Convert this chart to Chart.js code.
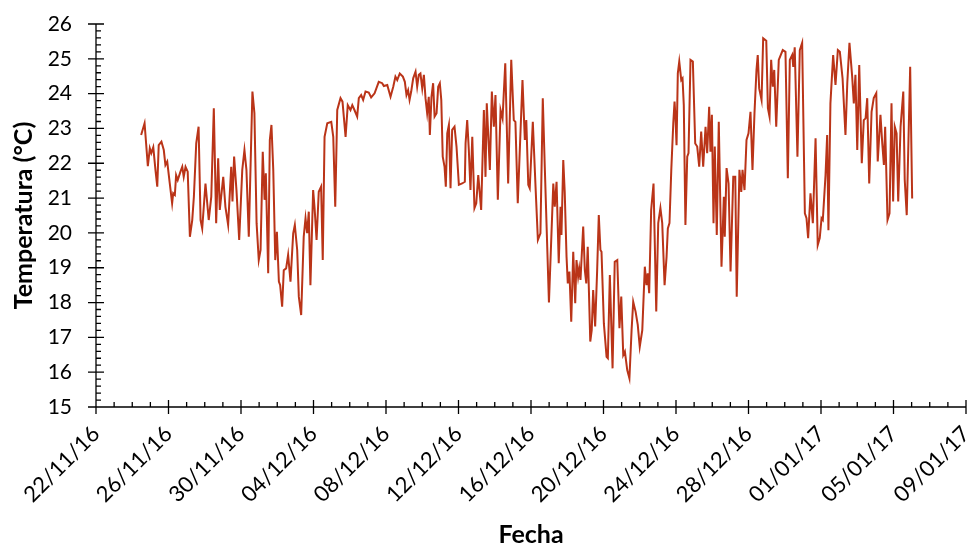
<!DOCTYPE html>
<html>
<head>
<meta charset="utf-8">
<script src="https://cdn.jsdelivr.net/npm/chart.js@4.4.1/dist/chart.umd.min.js"></script>
<style>
  body { margin: 0; background: #fff; }
</style>
</head>
<body>
<canvas id="grafico" width="970" height="550"></canvas>
<script>
// dias desde el 22/11/2016 (fraccion de dia = hora de la lectura)
var dias = [
  2.49,2.68,2.86,2.97,3.05,3.16,3.28,3.38,3.46,3.61,3.74,3.83,3.93,4.07,4.20,4.26,4.35,4.42,4.51,4.66,4.76,4.84,4.94,5.06,5.18,5.31,5.40,5.53,5.66,5.77,5.86,6.04,6.22,6.36,6.50,6.63,6.74,6.83,7.02,7.14,7.29,7.46,7.53,7.62,7.75,7.90,8.07,8.19,8.30,
  8.43,8.63,8.74,8.86,8.98,9.08,9.20,9.30,9.37,9.50,9.59,9.68,9.78,9.89,9.98,10.09,10.16,10.27,10.36,10.49,10.60,10.73,10.88,10.97,11.10,11.19,11.32,11.46,11.56,11.65,11.74,11.83,11.98,12.06,12.17,12.29,12.42,12.51,12.61,12.76,12.98,13.09,13.20,13.31,13.49,13.60,13.77,13.89,
  14.04,14.14,14.26,14.41,14.50,14.63,14.74,14.87,15.05,15.18,15.37,15.60,15.79,15.88,16.07,16.25,16.40,16.52,16.62,16.76,16.93,17.04,17.13,17.22,17.30,17.39,17.50,17.63,17.72,17.81,17.90,18.00,18.09,18.18,18.27,18.36,18.42,18.51,18.60,18.68,18.79,18.88,18.97,19.05,19.13,19.23,19.30,19.38,19.47,19.56,19.65,19.78,19.89,20.02,20.20,20.35,
  20.39,20.48,20.57,20.66,20.76,20.88,20.98,21.09,21.25,21.40,21.49,21.56,21.73,21.84,21.95,22.04,22.17,22.32,22.43,22.58,22.74,22.91,23.05,23.14,23.27,23.53,23.66,23.74,23.85,23.93,24.10,24.25,24.38,24.52,24.65,24.76,24.99,25.23,25.31,25.41,25.53,
  25.63,25.68,25.78,25.86,25.96,26.03,26.12,26.22,26.33,26.44,26.51,26.60,26.66,26.73,26.88,26.97,27.05,27.13,27.27,27.35,27.43,27.54,27.65,27.74,27.83,27.89,28.02,28.17,28.24,28.35,28.50,28.62,28.76,28.88,28.98,29.09,29.18,29.31,29.43,29.55,29.64,29.77,29.89,30.00,30.14,30.28,30.37,30.44,30.52,30.63,30.76,30.91,31.02,
  31.14,31.24,31.37,31.48,31.55,31.64,31.74,31.85,31.92,31.97,32.03,32.10,32.18,32.29,32.36,32.43,32.52,32.62,32.69,32.80,32.93,33.06,33.17,33.28,33.39,33.50,33.63,33.72,33.83,33.90,33.98,34.07,34.14,34.25,34.36,34.51,34.64,34.69,34.79,34.90,35.01,35.16,35.27,35.35,35.50,35.60,35.67,35.78,35.89,36.00,36.11,36.22,36.33,36.44,36.51,36.59,
  36.72,36.81,36.98,37.07,37.16,37.25,37.34,37.42,37.53,37.67,37.89,38.04,38.17,38.28,38.41,38.47,38.55,38.70,38.83,38.96,39.11,39.20,39.29,39.42,39.55,39.70,39.82,39.93,40.03,40.10,40.25,40.34,40.41,40.52,40.67,40.80,40.93,41.04,41.19,41.35,41.45,41.57,41.72,41.81,41.90,42.00,42.11,42.25,42.36,42.46,42.55,42.66,42.79,42.91,43.05,43.13,43.28,43.38,43.47,43.54,43.67,43.78,43.89,43.98,44.07,44.17,44.26,44.39,44.54,44.62,44.73,44.92,45.03
];
var temperatura = [
  22.81,23.15,21.92,22.43,22.29,22.46,21.81,21.33,22.52,22.62,22.38,21.95,22.05,21.42,20.85,21.14,21.09,21.66,21.52,21.76,21.90,21.61,21.90,21.76,19.89,20.37,21.04,22.57,23.05,20.37,20.13,21.42,20.37,21.04,23.58,20.28,22.14,20.66,21.61,20.75,20.23,21.90,20.90,22.19,21.23,19.80,21.81,22.38,21.81,
  19.89,24.06,23.44,20.28,19.22,19.51,22.33,20.95,21.71,18.84,22.67,23.10,21.81,19.22,20.03,18.60,18.50,17.88,18.93,18.98,19.37,18.60,19.99,20.23,19.51,18.17,17.64,19.89,20.42,19.99,20.61,18.50,21.23,20.71,19.80,21.18,21.33,19.22,22.76,23.15,23.19,22.76,20.75,23.53,23.87,23.77,22.76,23.67,
  23.53,23.67,23.53,23.34,23.87,23.96,23.82,24.06,24.03,23.89,24.01,24.34,24.30,24.22,24.25,23.91,24.20,24.49,24.39,24.58,24.49,24.34,23.96,24.10,23.82,24.06,24.44,24.63,24.20,24.54,24.58,24.15,24.54,23.87,23.44,23.91,22.81,23.91,24.30,23.34,23.44,24.20,24.30,23.82,22.19,21.90,21.33,22.86,23.10,21.28,22.96,23.05,22.48,21.38,21.42,21.47,
  22.57,23.24,22.38,21.23,22.76,20.71,20.85,21.66,20.66,23.53,21.61,23.72,21.81,24.06,23.05,23.96,20.95,23.53,23.29,24.87,21.42,24.97,23.24,23.19,20.85,24.39,22.67,23.24,21.38,21.28,23.19,21.33,19.80,19.99,23.87,21.90,18.00,21.42,20.75,21.47,19.13,
  20.75,19.94,22.09,21.18,19.32,18.55,18.89,17.45,19.46,17.98,19.22,18.74,18.98,18.65,20.18,18.93,18.55,19.60,16.88,17.21,18.36,17.31,18.93,20.51,19.51,19.46,17.40,16.44,16.40,18.79,16.11,19.17,19.22,17.26,18.17,16.49,16.59,16.06,15.82,17.21,18.02,17.74,17.36,16.73,17.21,19.03,18.50,18.84,18.27,20.66,21.42,17.74,20.28,
  20.71,20.28,18.50,19.32,20.13,20.28,21.81,23.15,23.77,23.34,22.52,24.58,24.92,24.39,24.44,23.67,20.23,22.19,22.29,24.97,24.92,22.57,22.48,21.90,22.91,21.90,23.05,22.29,23.62,22.33,23.39,20.28,22.48,19.94,23.19,19.03,21.04,19.89,21.86,21.42,18.89,21.61,21.61,18.17,21.81,21.18,21.81,21.23,22.67,22.86,23.48,21.81,23.44,24.68,25.11,24.15,
  23.82,25.59,25.52,23.58,23.34,24.97,24.20,24.68,23.05,24.97,25.25,25.20,21.57,24.97,25.11,24.77,25.33,22.19,25.25,25.46,20.56,20.42,19.85,21.14,20.28,22.72,19.65,19.85,20.42,20.37,21.66,22.81,20.08,23.72,25.11,24.25,25.25,25.20,24.44,22.81,24.30,25.46,24.49,23.72,24.54,22.38,24.82,22.00,23.24,23.29,23.87,21.42,23.48,23.87,24.01,22.05,23.39,22.57,21.95,23.05,20.37,20.56,23.72,20.90,23.05,22.86,20.90,23.05,24.06,21.52,20.51,24.77,20.99
];

// eje x: 22/11/16 a 09/01/17, marca mayor cada 4 dias
var fechaInicio = new Date(2016, 10, 22);
var xMin = 0, xMax = 48, xPaso = 4;
var yMin = 15, yMax = 26, yPaso = 1, yMenor = 0.2;

var puntos = [];
for (var i = 0; i < dias.length; i++) {
  puntos.push({ x: dias[i], y: temperatura[i] });
}

function dosDigitos(n) { return (n < 10 ? '0' : '') + n; }
function formatoFecha(v) {
  var d = new Date(fechaInicio.getFullYear(), fechaInicio.getMonth(), fechaInicio.getDate() + Math.round(v));
  return dosDigitos(d.getDate()) + '/' + dosDigitos(d.getMonth() + 1) + '/' + dosDigitos(d.getFullYear() % 100);
}

// ejes con marcas cruzadas (mayores) y marcas interiores (menores), estilo Excel
var ejes = {
  id: 'ejes',
  afterDraw: function(chart) {
    var ctx = chart.ctx, sx = chart.scales.x, sy = chart.scales.y, a = chart.chartArea;
    ctx.save();
    ctx.strokeStyle = '#000';
    ctx.lineWidth = 1.3;
    ctx.beginPath();
    ctx.moveTo(a.left, a.top);
    ctx.lineTo(a.left, a.bottom);
    ctx.lineTo(a.right, a.bottom);
    var n = Math.round((yMax - yMin) / yMenor);
    for (var i = 0; i <= n; i++) {
      var py = sy.getPixelForValue(yMin + i * yMenor);
      if (i % Math.round(yPaso / yMenor) === 0) {
        ctx.moveTo(a.left - 8, py); ctx.lineTo(a.left + 8, py);
      } else {
        ctx.moveTo(a.left, py); ctx.lineTo(a.left + 5, py);
      }
    }
    for (var d = xMin; d <= xMax; d++) {
      var px = sx.getPixelForValue(d);
      if (d % xPaso === 0) {
        ctx.moveTo(px, a.bottom - 7); ctx.lineTo(px, a.bottom + 7);
      } else {
        ctx.moveTo(px, a.bottom - 5); ctx.lineTo(px, a.bottom);
      }
    }
    ctx.stroke();
    ctx.restore();
  }
};

var fuente = 'Lato, "Open Sans", sans-serif';

new Chart(document.getElementById('grafico'), {
  type: 'line',
  data: {
    datasets: [{
      label: 'Temperatura',
      data: puntos,
      borderColor: '#BA3418',
      borderWidth: 2,
      pointRadius: 0,
      tension: 0,
      fill: false
    }]
  },
  options: {
    responsive: false,
    animation: false,
    layout: { padding: { top: 24, right: 4, left: 0, bottom: 0 } },
    plugins: {
      legend: { display: false },
      tooltip: { enabled: false }
    },
    scales: {
      x: {
        type: 'linear',
        min: xMin,
        max: xMax,
        grid: { display: false, drawTicks: false },
        border: { display: false },
        ticks: {
          stepSize: xPaso,
          autoSkip: false,
          maxRotation: 45,
          minRotation: 45,
          padding: 14,
          color: '#000',
          font: { family: fuente, size: 22 },
          callback: function(v) { return formatoFecha(v); }
        },
        title: {
          display: true,
          text: 'Fecha',
          color: '#000',
          font: { family: fuente, size: 25, weight: 'bold' },
          padding: { top: 0, bottom: 0 }
        },
        afterFit: function(s) { s.height = 143; s.paddingLeft = 0; s.paddingRight = 0; }
      },
      y: {
        min: yMin,
        max: yMax,
        grid: { display: false, drawTicks: false },
        border: { display: false },
        ticks: {
          stepSize: yPaso,
          padding: 24,
          color: '#000',
          font: { family: fuente, size: 21 }
        },
        title: {
          display: true,
          text: 'Temperatura (°C)',
          color: '#000',
          font: { family: fuente, size: 25, weight: 'bold' },
          padding: { top: 9, bottom: 0 }
        },
        afterFit: function(s) { s.width = 96; s.paddingTop = 0; s.paddingBottom = 0; }
      }
    }
  },
  plugins: [ejes]
});
</script>
</body>
</html>
